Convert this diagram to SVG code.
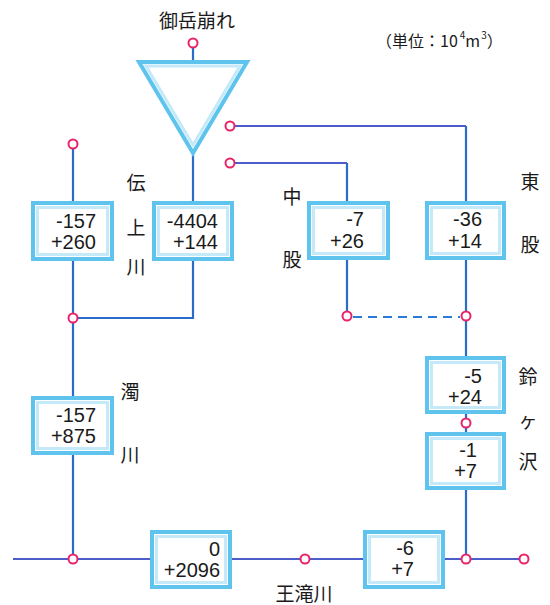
<svg xmlns="http://www.w3.org/2000/svg" width="550" height="605" viewBox="0 0 550 605">
<style>
.ln{stroke:#2a6cc8;stroke-width:2.2;fill:none}
.lp{stroke:#4d5cc9;stroke-width:2.2;fill:none}
.dash{stroke:#2a7ad8;stroke-width:2.2;fill:none;stroke-dasharray:9 6}
.jc{fill:#fff;stroke:#e8236a;stroke-width:2}
.bo{fill:#fff;stroke:#5ec4ee;stroke-width:4}
.bi{fill:none;stroke:#c4eafa;stroke-width:3}
.num{font-family:"Liberation Sans",Arial,sans-serif;font-size:20px;fill:#1a1a1a;text-anchor:end}
.jp{font-family:"Noto Sans CJK JP","Noto Sans",sans-serif;font-size:19px;fill:#1a1a1a;text-anchor:middle}
</style>
<rect width="550" height="605" fill="#fff"/>
<g id="connectors">
<line class="ln" x1="193" y1="43" x2="193" y2="62"/>
<line class="ln" x1="193" y1="150" x2="193" y2="203"/>
<polyline class="ln" points="193,259 193,318 73,318"/>
<line class="ln" x1="73" y1="144" x2="73" y2="203"/>
<line class="ln" x1="73" y1="259" x2="73" y2="398"/>
<line class="ln" x1="73" y1="453" x2="73" y2="559"/>
<polyline class="lp" points="230,126 466,126"/>
<line class="ln" x1="466" y1="126" x2="466" y2="203"/>
<line class="ln" x1="466" y1="258" x2="466" y2="358"/>
<polyline class="lp" points="230,163 347,163"/>
<line class="ln" x1="347" y1="163" x2="347" y2="203"/>
<line class="ln" x1="347" y1="258" x2="347" y2="316"/>
<line class="dash" x1="353" y1="317" x2="460" y2="317"/>
<line class="ln" x1="466" y1="412" x2="466" y2="434"/>
<line class="ln" x1="466" y1="488" x2="466" y2="559"/>
<line class="lp" x1="13" y1="559" x2="152" y2="559"/>
<line class="lp" x1="230" y1="559" x2="365" y2="559"/>
<line class="lp" x1="443" y1="559" x2="524" y2="559"/>
<circle class="jc" cx="193" cy="43" r="4.5"/>
<circle class="jc" cx="230" cy="126" r="4.5"/>
<circle class="jc" cx="230" cy="163" r="4.5"/>
<circle class="jc" cx="73" cy="144" r="4.5"/>
<circle class="jc" cx="73" cy="318" r="4.5"/>
<circle class="jc" cx="347" cy="316" r="4.5"/>
<circle class="jc" cx="466" cy="316" r="4.5"/>
<circle class="jc" cx="466" cy="423" r="4.5"/>
<circle class="jc" cx="73" cy="559" r="4.5"/>
<circle class="jc" cx="305" cy="559" r="4.5"/>
<circle class="jc" cx="466" cy="559" r="4.5"/>
<circle class="jc" cx="524" cy="559" r="4.5"/>
</g>
<g id="ontake">
<polygon points="139,62 247,62 193,153" fill="#fff" stroke="#5ec4ee" stroke-width="4" stroke-linejoin="miter"/>
<polygon points="146,66 240,66 193,145" fill="none" stroke="#c4eafa" stroke-width="3"/>
<text class="jp" x="197" y="28" font-size="18">御岳崩れ</text>
</g>
<text id="unit" x="376" y="47" font-family="Noto Sans CJK JP,Noto Sans,sans-serif" font-size="16" fill="#1a1a1a">（単位：10<tspan font-size="10" dx="2" dy="-8">4</tspan><tspan dy="8">m</tspan><tspan font-size="10" dx="1" dy="-8">3</tspan><tspan dy="8">）</tspan></text>
<g id="denjo-a">
<rect class="bo" x="33" y="203" width="79" height="56"/><rect class="bi" x="37.5" y="207.5" width="70" height="47"/>
<text class="num" x="96" y="228">-157</text><text class="num" x="96" y="249">+260</text>
</g>
<g id="denjo-b">
<rect class="bo" x="154" y="203" width="78" height="56"/><rect class="bi" x="158.5" y="207.5" width="69" height="47"/>
<text class="num" x="218" y="228">-4404</text><text class="num" x="218" y="249">+144</text>
</g>
<g id="denjo-label"><text class="jp" x="136" y="190">伝</text><text class="jp" x="136" y="235">上</text><text class="jp" x="136" y="274">川</text></g>
<g id="nakamata">
<rect class="bo" x="309" y="203" width="79" height="55"/><rect class="bi" x="313.5" y="207.5" width="70" height="46"/>
<text class="num" x="364" y="226">-7</text><text class="num" x="364" y="248">+26</text>
<text class="jp" x="292" y="204">中</text><text class="jp" x="292" y="267">股</text>
</g>
<g id="higashimata">
<rect class="bo" x="427" y="203" width="77" height="55"/><rect class="bi" x="431.5" y="207.5" width="68" height="46"/>
<text class="num" x="482" y="226">-36</text><text class="num" x="482" y="248">+14</text>
<text class="jp" x="530" y="189">東</text><text class="jp" x="530" y="252">股</text>
</g>
<g id="nigorigawa">
<rect class="bo" x="33" y="398" width="79" height="55"/><rect class="bi" x="37.5" y="402.5" width="70" height="46"/>
<text class="num" x="96" y="422">-157</text><text class="num" x="96" y="443">+875</text>
<text class="jp" x="130" y="399">濁</text><text class="jp" x="130" y="462">川</text>
</g>
<g id="suzugasawa-a">
<rect class="bo" x="427" y="358" width="77" height="54"/><rect class="bi" x="431.5" y="362.5" width="68" height="45"/>
<text class="num" x="482" y="383">-5</text><text class="num" x="482" y="404">+24</text>
</g>
<g id="suzugasawa-b">
<rect class="bo" x="427" y="434" width="77" height="54"/><rect class="bi" x="431.5" y="438.5" width="68" height="45"/>
<text class="num" x="477" y="457">-1</text><text class="num" x="477" y="478">+7</text>
</g>
<g id="suzugasawa-label"><text class="jp" x="528" y="384">鈴</text><text class="jp" x="528" y="428" font-size="13">ヶ</text><text class="jp" x="528" y="469">沢</text></g>
<g id="otaki-a">
<rect class="bo" x="152" y="532" width="78" height="55"/><rect class="bi" x="156.5" y="536.5" width="69" height="46"/>
<text class="num" x="220" y="556">0</text><text class="num" x="220" y="577">+2096</text>
</g>
<g id="otaki-b">
<rect class="bo" x="365" y="532" width="78" height="55"/><rect class="bi" x="369.5" y="536.5" width="69" height="46"/>
<text class="num" x="414" y="555">-6</text><text class="num" x="414" y="576">+7</text>
</g>
<text id="otakigawa" class="jp" x="304" y="601">王滝川</text>
</svg>
